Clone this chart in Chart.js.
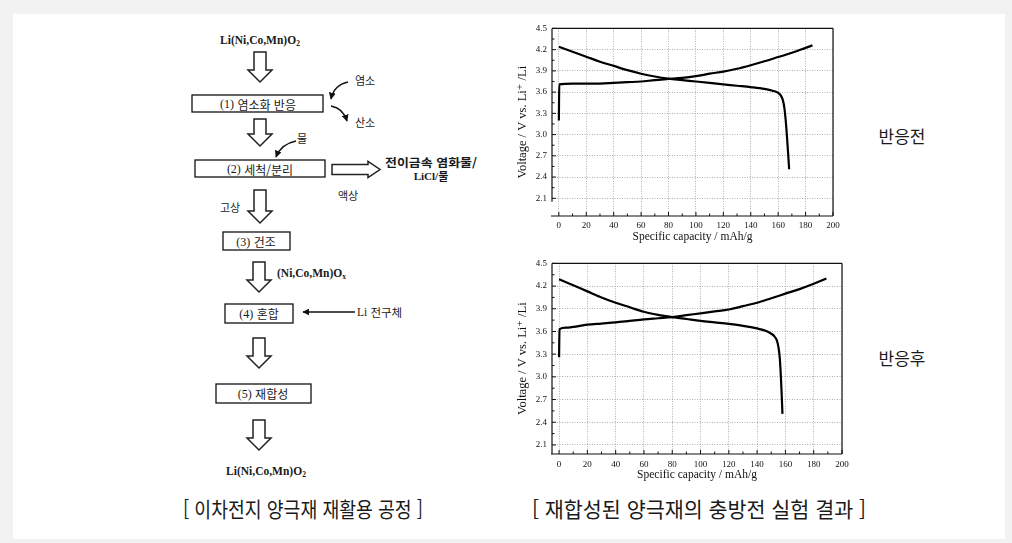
<!DOCTYPE html>
<html lang="ko">
<head>
<meta charset="utf-8">
<script src="https://cdn.jsdelivr.net/npm/chart.js@4.4.1/dist/chart.umd.min.js"></script>
<style>
  html, body { margin: 0; padding: 0; }
  body { width: 1012px; height: 543px; background: #f2f2f2; position: relative; overflow: hidden;
         font-family: "Noto Sans CJK KR", "Noto Sans", sans-serif; }
  #panel { position: absolute; left: 13px; top: 14px; width: 992px; height: 525px; background: #fff; }
  #flow { position: absolute; left: 0; top: 0; }
  canvas { position: absolute; }
  #chartBefore { left: 505px; top: 18px; }
  #chartAfter  { left: 505px; top: 253px; }
</style>
</head>
<body>
<div id="panel"></div>

<svg id="flow" width="1012" height="543" xmlns="http://www.w3.org/2000/svg">
  <defs>
    <marker id="ah" viewBox="0 0 10 10" refX="9" refY="5" markerWidth="5" markerHeight="5" orient="auto">
      <path d="M0,0 L10,5 L0,10 z" fill="#111"/>
    </marker>
  </defs>
  <g id="arrows" fill="#fff" stroke="#222" stroke-width="1.5" stroke-linejoin="miter"></g>

  <g fill="#fff" stroke="#111" stroke-width="1.3">
    <rect x="192" y="95" width="131" height="17"/>
    <rect x="195" y="160" width="130" height="17"/>
    <rect x="223" y="232" width="67" height="18"/>
    <rect x="225" y="304" width="68" height="19"/>
    <rect x="216" y="384" width="95" height="19"/>
  </g>

  <g fill="none" stroke="#111" stroke-width="1.4">
    <path d="M348,82 Q334,85 331,99" marker-end="url(#ah)"/>
    <path d="M331,106 Q343,108 347,121" marker-end="url(#ah)"/>
    <path d="M296,141 Q281,144 276,157" marker-end="url(#ah)"/>
    <path d="M355,312 L303,312" marker-end="url(#ah)"/>
  </g>

  <g fill="#1a1a1a" dominant-baseline="central">
    <text x="260" y="40" text-anchor="middle" font-family="Liberation Serif" font-weight="bold" font-size="11.5">Li(Ni,Co,Mn)O<tspan font-size="7.5" dy="3">2</tspan></text>
    <text x="258" y="104" text-anchor="middle" font-size="12"><tspan font-family="Liberation Serif">(1)</tspan> 염소화 반응</text>
    <text x="260" y="169" text-anchor="middle" font-size="12"><tspan font-family="Liberation Serif">(2)</tspan> 세척/분리</text>
    <text x="256" y="241.5" text-anchor="middle" font-size="12"><tspan font-family="Liberation Serif">(3)</tspan> 건조</text>
    <text x="259" y="313.5" text-anchor="middle" font-size="12"><tspan font-family="Liberation Serif">(4)</tspan> 혼합</text>
    <text x="263" y="393.5" text-anchor="middle" font-size="12"><tspan font-family="Liberation Serif">(5)</tspan> 재합성</text>
    <text x="355" y="80" font-size="11">염소</text>
    <text x="355" y="122" font-size="11">산소</text>
    <text x="297" y="138" font-size="11">물</text>
    <text x="431" y="162" text-anchor="middle" font-size="11.5" font-weight="bold" textLength="92" lengthAdjust="spacingAndGlyphs">전이금속 염화물/</text>
    <text x="431" y="176" text-anchor="middle" font-size="11" font-weight="bold"><tspan font-family="Liberation Serif">LiCl/</tspan>물</text>
    <text x="338" y="195" font-size="11">액상</text>
    <text x="220" y="207" font-size="11">고상</text>
    <text x="277" y="273" font-family="Liberation Serif" font-weight="bold" font-size="11.5">(Ni,Co,Mn)O<tspan font-size="7.5" dy="3">x</tspan></text>
    <text x="357" y="312" font-size="11.5"><tspan font-family="Liberation Serif">Li</tspan> 전구체</text>
    <text x="266" y="471" text-anchor="middle" font-family="Liberation Serif" font-weight="bold" font-size="11.5">Li(Ni,Co,Mn)O<tspan font-size="7.5" dy="3">2</tspan></text>

    <text x="902" y="135" text-anchor="middle" font-size="17">반응전</text>
    <text x="902" y="357" text-anchor="middle" font-size="17">반응후</text>

    <text x="183" y="508" font-size="21" textLength="240" lengthAdjust="spacingAndGlyphs">[ 이차전지 양극재 재활용 공정 ]</text>
    <text x="532" y="508" font-size="21" textLength="334" lengthAdjust="spacingAndGlyphs">[ 재합성된 양극재의 충방전 실험 결과 ]</text>
  </g>
</svg>

<canvas id="chartBefore" width="340" height="232"></canvas>
<canvas id="chartAfter" width="350" height="235"></canvas>

<script>
// axis ticks
const capTicks  = [0, 20, 40, 60, 80, 100, 120, 140, 160, 180, 200];
const voltTicks = [2.1, 2.4, 2.7, 3.0, 3.3, 3.6, 3.9, 4.2, 4.5];

// 반응전 (before)
const beforeChargeCap = [0, 0.3, 10, 20, 30, 40, 50, 60, 70, 80, 90, 100, 110, 120, 130, 140, 150, 160, 170, 180, 185];
const beforeChargeV   = [3.20, 3.71, 3.72, 3.72, 3.72, 3.73, 3.74, 3.75, 3.77, 3.785, 3.80, 3.825, 3.86, 3.89, 3.93, 3.98, 4.035, 4.095, 4.155, 4.225, 4.26];
const beforeDischCap  = [0, 10, 20, 30, 40, 50, 60, 70, 80, 90, 100, 110, 120, 130, 140, 150, 156, 160, 162, 163.5, 164.5, 165.5, 166.5, 167.3, 168];
const beforeDischV    = [4.24, 4.17, 4.10, 4.03, 3.97, 3.91, 3.86, 3.82, 3.79, 3.77, 3.75, 3.73, 3.71, 3.69, 3.67, 3.645, 3.62, 3.59, 3.55, 3.48, 3.38, 3.20, 2.95, 2.72, 2.51];

// 반응후 (after)
const afterChargeCap = [0, 0.3, 5, 10, 20, 30, 40, 50, 60, 70, 80, 90, 100, 110, 120, 130, 140, 150, 160, 170, 180, 189];
const afterChargeV   = [3.26, 3.63, 3.65, 3.66, 3.69, 3.705, 3.72, 3.74, 3.76, 3.775, 3.79, 3.815, 3.84, 3.865, 3.89, 3.935, 3.98, 4.04, 4.10, 4.16, 4.23, 4.30];
const afterDischCap  = [0, 10, 20, 30, 40, 50, 60, 70, 80, 90, 100, 110, 120, 130, 140, 146, 150, 152, 154, 155, 156, 156.8, 157.4, 157.9];
const afterDischV    = [4.29, 4.21, 4.13, 4.05, 3.98, 3.92, 3.86, 3.82, 3.79, 3.765, 3.74, 3.72, 3.70, 3.675, 3.64, 3.61, 3.57, 3.54, 3.48, 3.40, 3.25, 3.00, 2.75, 2.51];

const serif = '"Liberation Serif", "DejaVu Serif", serif';

// hollow block arrows of the flow chart
const svgNS = 'http://www.w3.org/2000/svg';
const arrowG = document.getElementById('arrows');
function poly(points) {
  const p = document.createElementNS(svgNS, 'polygon');
  p.setAttribute('points', points.map(q => q.join(',')).join(' '));
  arrowG.appendChild(p);
}
function hollowDown(cx, y0, y1) {
  const h = y1 - 12;
  poly([[cx - 6, y0], [cx + 6, y0], [cx + 6, h], [cx + 12, h], [cx, y1], [cx - 12, h], [cx - 6, h]]);
}
hollowDown(260, 52, 82);
hollowDown(260, 119, 146);
hollowDown(260, 190, 223);
hollowDown(259, 262, 292);
hollowDown(259, 338, 368);
hollowDown(259, 420, 450);
poly([[332, 164.5], [368, 164.5], [368, 161.5], [380, 169.5], [368, 177.5], [368, 174.5], [332, 174.5]]);

const pts = (xs, ys) => xs.map((x, i) => ({ x, y: ys[i] }));
const mids = arr => arr.slice(1).map((v, i) => (v + arr[i]) / 2);

// box frame + inward ticks (origin-style)
const framePlugin = {
  id: 'frame',
  afterDatasetsDraw(chart, args, opts) {
    const { ctx, chartArea: a, scales: { x, y } } = chart;
    const line = (x1, y1, x2, y2) => { ctx.beginPath(); ctx.moveTo(x1, y1); ctx.lineTo(x2, y2); ctx.stroke(); };
    ctx.save();
    ctx.strokeStyle = '#111';
    ctx.lineWidth = 1.2;
    const leftEnd = y.getPixelForValue(opts.leftStop ?? y.min);
    line(a.left, a.top, a.right, a.top);
    line(a.right, a.top, a.right, a.bottom);
    line(a.left - 1, a.bottom, a.right, a.bottom);
    line(a.left, a.top, a.left, leftEnd);
    ctx.lineWidth = 1;
    capTicks.forEach(v => { const p = x.getPixelForValue(v); line(p, a.bottom, p, a.bottom - 4); });
    mids(capTicks).forEach(v => { const p = x.getPixelForValue(v); line(p, a.bottom, p, a.bottom - 2.5); });
    voltTicks.forEach(v => { const p = y.getPixelForValue(v); if (p <= leftEnd) line(a.left, p, a.left + 4, p); });
    mids(voltTicks).forEach(v => { const p = y.getPixelForValue(v); if (p <= leftEnd) line(a.left, p, a.left + 2.5, p); });
    ctx.restore();
  }
};

function makeChart(id, c) {
  return new Chart(document.getElementById(id), {
    type: 'scatter',
    data: {
      datasets: [
        { data: pts(c.chargeCap, c.chargeV), showLine: true },
        { data: pts(c.dischCap, c.dischV), showLine: true },
      ],
    },
    options: {
      responsive: false,
      animation: false,
      layout: { padding: { top: 10, right: c.padRight, left: 0, bottom: 0 } },
      elements: {
        point: { radius: 0 },
        line: { borderColor: '#000', borderWidth: 2.2, cubicInterpolationMode: 'monotone' },
      },
      plugins: {
        legend: { display: false },
        tooltip: { enabled: false },
        frame: { leftStop: c.leftStop },
      },
      scales: {
        x: {
          type: 'linear', min: -5, max: 200,
          afterBuildTicks: s => { s.ticks = capTicks.map(v => ({ value: v })); },
          afterFit: s => { s.height = 34; },
          grid: { color: '#9a9a9a', lineWidth: 0.8, drawTicks: false },
          border: { display: false, dash: [1, 1.5] },
          ticks: { padding: c.xPad, color: '#111', font: { family: serif, size: 9 }, callback: v => String(v) },
          title: { display: true, text: 'Specific capacity / mAh/g', color: '#111',
                   font: { family: serif, size: 11.5 }, padding: { top: 0, bottom: 6 } },
        },
        y: {
          type: 'linear', min: c.yMin, max: 4.5,
          afterBuildTicks: s => { s.ticks = voltTicks.map(v => ({ value: v })); },
          afterFit: s => { s.width = 47; },
          grid: { color: '#9a9a9a', lineWidth: 0.8, drawTicks: false },
          border: { display: false, dash: [1, 1.5] },
          ticks: { padding: 5, color: '#111', font: { family: serif, size: 9 }, callback: v => v.toFixed(1) },
          title: { display: true, text: 'Voltage / V vs. Li⁺ /Li', color: '#111',
                   font: { family: serif, size: 12.5 }, padding: { top: 10, bottom: 0 } },
        },
      },
    },
    plugins: [framePlugin],
  });
}

makeChart('chartBefore', {
  chargeCap: beforeChargeCap, chargeV: beforeChargeV,
  dischCap: beforeDischCap, dischV: beforeDischV,
  yMin: 1.85, leftStop: 2.05, padRight: 12, xPad: 4,
});
makeChart('chartAfter', {
  chargeCap: afterChargeCap, chargeV: afterChargeV,
  dischCap: afterDischCap, dischV: afterDischV,
  yMin: 1.98, padRight: 13, xPad: 5,
});
</script>
</body>
</html>
